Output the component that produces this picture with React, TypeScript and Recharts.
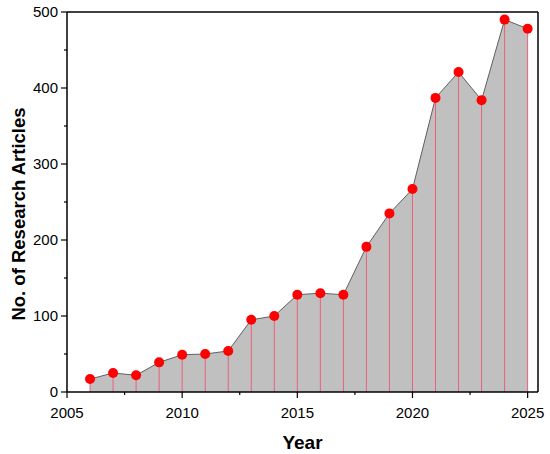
import React from "react";
import { ComposedChart, Area, Line, XAxis, YAxis, ReferenceLine, Label } from "recharts";

const years = [2006, 2007, 2008, 2009, 2010, 2011, 2012, 2013, 2014, 2015, 2016, 2017, 2018, 2019, 2020, 2021, 2022, 2023, 2024, 2025];
const articles = [17, 25, 22, 39, 49, 50, 54, 95, 100, 128, 130, 128, 191, 235, 267, 387, 421, 384, 490, 478];

const xTicks = [2005, 2007.5, 2010, 2012.5, 2015, 2017.5, 2020, 2022.5, 2025];
const xMajor = [2005, 2010, 2015, 2020, 2025];
const yTicks = [0, 50, 100, 150, 200, 250, 300, 350, 400, 450, 500];
const yMajor = [0, 100, 200, 300, 400, 500];

const X_MAX = 2025.45;

const data = years.map((year, i) => ({ year, count: articles[i] }));

const font = "Arial, 'Liberation Sans', sans-serif";

// tick lines drawn by hand so minor ticks can be shorter
const XTick = (props: any) => {
	const { x, y, payload } = props;
	const major = xMajor.includes(payload.value);
	return (
		<g>
			<line x1={x} x2={x} y1={y} y2={y + (major ? 6 : 3)} stroke="#000" strokeWidth={1.2} />
			{major && (
				<text x={x} y={y + 26} textAnchor="middle" fontSize={15} fontFamily={font} fill="#000">
					{payload.value}
				</text>
			)}
		</g>
	);
};

const YTick = (props: any) => {
	const { x, y, payload } = props;
	const major = yMajor.includes(payload.value);
	return (
		<g>
			<line x1={x} x2={x - (major ? 6 : 3)} y1={y} y2={y} stroke="#000" strokeWidth={1.2} />
			{major && (
				<text x={x - 9} y={y + 5} textAnchor="end" fontSize={15} fontFamily={font} fill="#000">
					{payload.value}
				</text>
			)}
		</g>
	);
};

const YTitle = (props: any) => {
	const { viewBox } = props;
	const cx = 25;
	const cy = viewBox.y + viewBox.height / 2 + 12;
	return (
		<text
			x={cx}
			y={cy}
			transform={`rotate(-90 ${cx} ${cy})`}
			textAnchor="middle"
			fontSize={18.5}
			fontWeight="bold"
			fontFamily={font}
			fill="#000"
		>
			No. of Research Articles
		</text>
	);
};

const App = () => {
	return (
		<div style={{ position: "absolute", left: 0, top: 0 }}>
			<ComposedChart width={550} height={454} data={data} margin={{ top: 12, right: 12, left: 0, bottom: 0 }}>
				<XAxis
					dataKey="year"
					type="number"
					domain={[2005, X_MAX]}
					ticks={xTicks}
					tick={<XTick />}
					tickSize={0}
					tickMargin={0}
					tickLine={false}
					height={62}
					axisLine={{ stroke: "#000", strokeWidth: 1.5 }}
					interval={0}
				>
					<Label value="Year" position="insideBottom" offset={5} style={{ fontSize: 19, fontWeight: "bold", fontFamily: font, fill: "#000" }} />
				</XAxis>
				<YAxis
					type="number"
					domain={[0, 500]}
					ticks={yTicks}
					tick={<YTick />}
					tickSize={0}
					tickMargin={0}
					tickLine={false}
					width={67}
					axisLine={{ stroke: "#000", strokeWidth: 1.5 }}
					interval={0}
				>
					<Label content={<YTitle />} />
				</YAxis>
				<ReferenceLine y={500} stroke="#000" strokeWidth={1.5} />
				<ReferenceLine x={X_MAX} stroke="#000" strokeWidth={1.5} />
				<Area
					type="linear"
					dataKey="count"
					fill="#c0c0c0"
					fillOpacity={1}
					stroke="#5f5f5f"
					strokeWidth={1}
					isAnimationActive={false}
				/>
				{data.map((d) => (
					<ReferenceLine
						key={d.year}
						segment={[{ x: d.year, y: 0 }, { x: d.year, y: d.count }]}
						stroke="#e8607a"
						strokeWidth={1}
					/>
				))}
				<Line
					type="linear"
					dataKey="count"
					stroke="none"
					dot={{ r: 5, fill: "#ff0000", stroke: "none" }}
					activeDot={false}
					isAnimationActive={false}
				/>
			</ComposedChart>
		</div>
	);
};

export default App;
